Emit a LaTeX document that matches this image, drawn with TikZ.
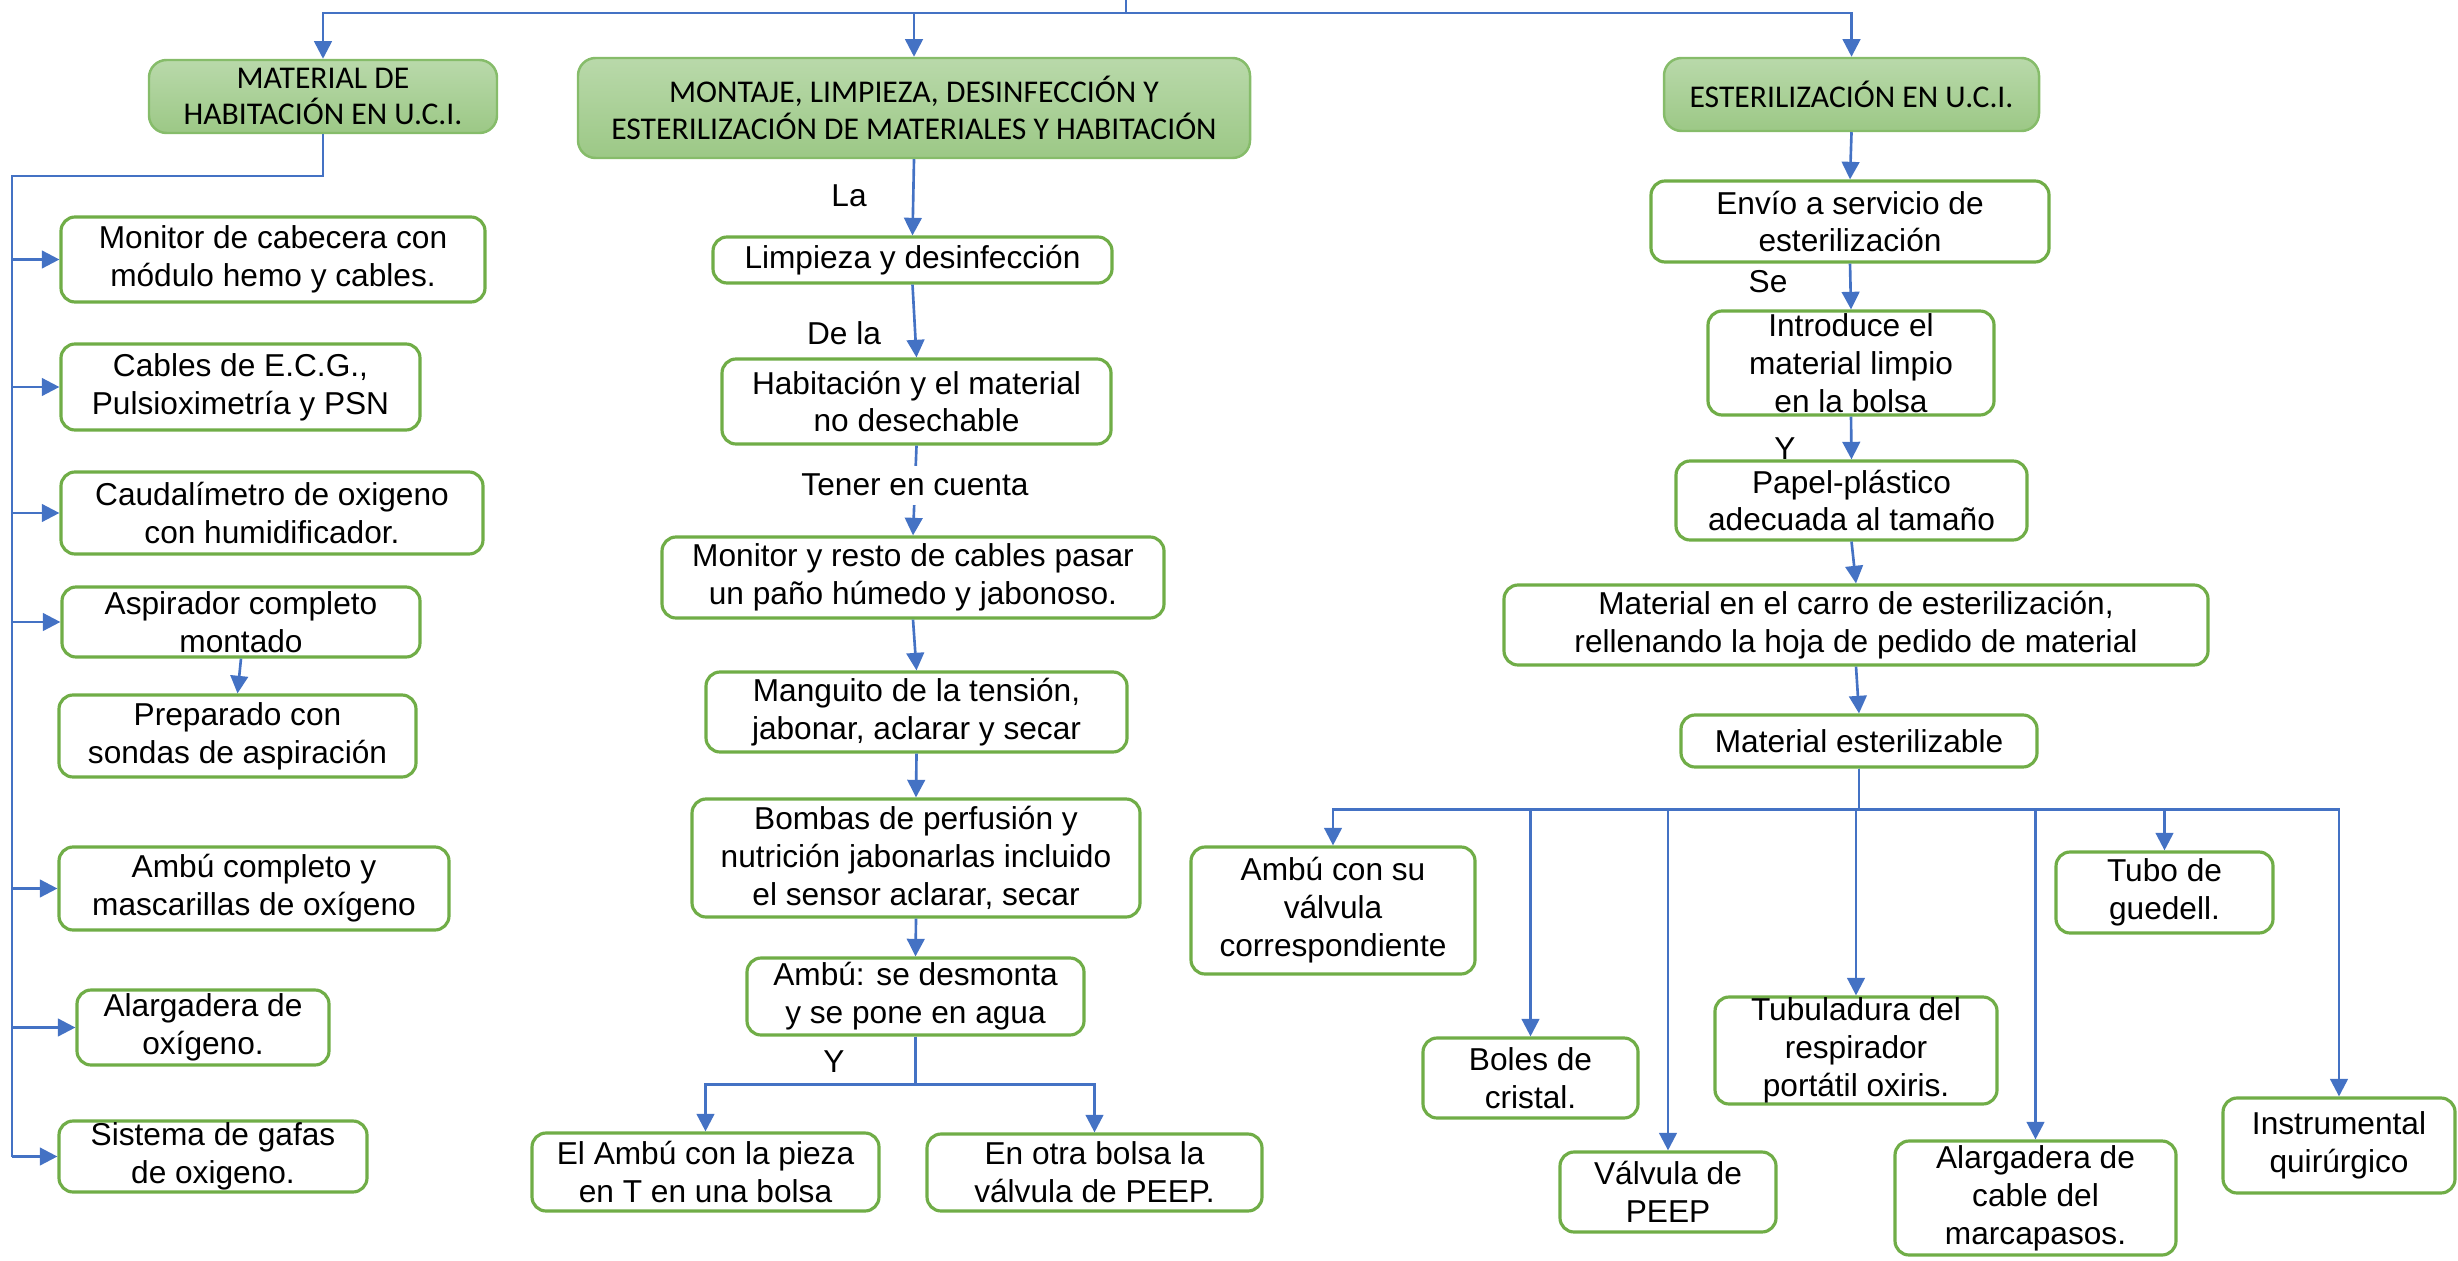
\documentclass[tikz,border=0pt]{standalone}
\usepackage{fontspec}
\setmainfont{Liberation Sans}
\newfontfamily\hdfont{Carlito}
\usetikzlibrary{arrows.meta,calc}
\definecolor{cblue}{HTML}{4472C4}
\definecolor{cgreen}{HTML}{70AD47}
\definecolor{htop}{HTML}{B9D9AA}
\definecolor{hbot}{HTML}{9CC886}
\definecolor{hborder}{HTML}{86BC6A}
\newcommand\gb[6]{%
  \node[gbox, minimum width={#4*0.01cm}, minimum height={#5*0.01cm}] (#1) at (#2,#3) {};
  \node[txt] (#1-t) at (#1.center) {#6};}
\newcommand\hb[6]{%
  \node[hbox, minimum width={#4*0.01cm}, minimum height={#5*0.01cm}] (#1) at (#2,#3) {};
  \node[htxt] (#1-t) at (#1.center) {#6};}
\begin{document}
\begin{tikzpicture}[x=0.01cm,y=-0.01cm,
  gbox/.style={draw=cgreen, line width=0.9pt, rounded corners=4pt, fill=white, inner sep=0pt},
  hbox/.style={draw=hborder, line width=0.7pt, rounded corners=5pt, top color=htop, bottom color=hbot, inner sep=0pt},
  txt/.style={align=center, font=\fontsize{9}{10.8}\selectfont, inner sep=0pt},
  htxt/.style={align=center, font=\hdfont\fontsize{9}{10.5}\selectfont, inner sep=0pt},
  lbl/.style={font=\fontsize{9}{10.8}\selectfont, inner sep=0pt},
  wire/.style={draw=cblue, line width=0.75pt},
  arr/.style={wire, -{Triangle[length=5pt,width=5pt]}}
]
\useasboundingbox (0,0) rectangle (2458,1261);

% headers
\hb{H1}{323}{96.5}{348}{73}{MATERIAL DE\\HABITACIÓN EN U.C.I.}
\hb{H2}{914}{108}{672}{100}{MONTAJE, LIMPIEZA, DESINFECCIÓN Y\\ESTERILIZACIÓN DE MATERIALES Y HABITACIÓN}
\hb{H3}{1851.5}{94.5}{375}{73}{ESTERILIZACIÓN EN U.C.I.}

% left column
\gb{L1}{273}{259.5}{424}{85}{Monitor de cabecera con\\módulo hemo y cables.}
\gb{L2}{240.5}{387}{359}{86}{Cables de E.C.G.,\\Pulsioximetría y PSN}
\gb{L3}{272}{513}{422}{82}{Caudalímetro de oxigeno\\con humidificador.}
\gb{L4}{241}{622}{358}{70}{Aspirador completo\\montado}
\gb{L5}{237.5}{736}{357}{82}{Preparado con\\sondas de aspiración}
\gb{L6}{254}{888.5}{390}{83}{Ambú completo y\\mascarillas de oxígeno}
\gb{L7}{203}{1027.5}{252}{75}{Alargadera de\\oxígeno.}
\gb{L8}{213}{1156.5}{308}{71}{Sistema de gafas\\de oxigeno.}

% middle column
\gb{M1}{912.5}{260}{399}{46}{Limpieza y desinfección}
\gb{M2}{916.5}{401.5}{389}{85}{Habitación y el material\\no desechable}
\gb{M3}{913}{577.5}{502}{81}{Monitor y resto de cables pasar\\un paño húmedo y jabonoso.}
\gb{M4}{916.5}{712}{421}{80}{Manguito de la tensión,\\jabonar, aclarar y secar}
\gb{M5}{916}{858}{448}{118}{Bombas de perfusión y\\nutrición jabonarlas incluido\\el sensor aclarar, secar}
\gb{M6}{915.5}{996.5}{337}{77}{Ambú: se desmonta\\y se pone en agua}
\gb{M7}{705.5}{1172}{347}{78}{El Ambú con la pieza\\en T en una bolsa}
\gb{M8}{1094.5}{1172.5}{335}{77}{En otra bolsa la\\válvula de PEEP.}

% right column
\gb{R1}{1850}{221.5}{398}{81}{Envío a servicio de\\esterilización}
\gb{R2}{1851}{363}{286}{104}{Introduce el\\material limpio\\en la bolsa}
\gb{R3}{1851.5}{500.5}{351}{79}{Papel-plástico\\adecuada al tamaño}
\gb{R4}{1856}{625}{704}{80}{Material en el carro de esterilización,\\rellenando la hoja de pedido de material}
\gb{R5}{1859}{741}{356}{52}{Material esterilizable}

\gb{S1}{1333}{910.5}{284}{127}{Ambú con su\\válvula\\correspondiente}
\gb{S2}{1530.5}{1078}{215}{80}{Boles de\\cristal.}
\gb{S3}{1668}{1192}{216}{80}{Válvula de\\PEEP}
\gb{S4}{1856}{1050.5}{282}{107}{Tubuladura del\\respirador\\portátil oxiris.}
\gb{S5}{2035.5}{1198}{281}{114}{Alargadera de\\cable del\\marcapasos.}
\gb{S6}{2164.5}{892.5}{217}{81}{Tubo de\\guedell.}
\gb{S7}{2339}{1145.5}{232}{95}{Instrumental\\quirúrgico}

% labels
\node[lbl] (la) at (849,196) {La};
\node[lbl] (dela) at (844,333) {De la};
\node[lbl] (ym) at (834,1062) {Y};
\node[lbl] (se) at (1768,282) {Se};
\node[lbl] (yr) at (1785,449) {Y};

% top connectors
\coordinate (root) at (1126,0);
\draw[arr] (root) -- ++(0,13) -| (H1.north);
\draw[arr] (root) -- ++(0,13) -| (H2.north);
\draw[arr] (root) -- ++(0,13) -| (H3.north);

% left spine
\coordinate (spine) at (12,176);
\draw[wire] (H1.south) |- (spine) -- (spine |- L8.west);
\foreach \n in {L1,L2,L3,L4,L6,L7,L8}
  \draw[arr] (spine |- \n.west) -- (\n.west);
\draw[arr] (L4.south) -- (L5.north);

% middle
\draw[arr] (H2.south) -- (M1.north);
\draw[arr] (M1.south) -- (M2.north);
\draw[arr] (M2.south) -- (M3.north)
  node[pos=0.44, fill=white, font=\fontsize{9}{10.8}\selectfont, inner xsep=0pt, inner ysep=0.085cm] (tener) {Tener en cuenta};
\draw[arr] (M3.south) -- (M4.north);
\draw[arr] (M4.south) -- (M5.north);
\draw[arr] (M5.south) -- (M6.north);
\draw[arr] (M6.south) -- ++(0,48) -| (M7.north);
\draw[arr] (M6.south) -- ++(0,48) -| (M8.north);

% right
\draw[arr] (H3.south) -- (R1.north);
\draw[arr] (R1.south) -- (R2.north);
\draw[arr] (R2.south) -- (R3.north);
\draw[arr] (R3.south) -- (R4.north);
\draw[arr] (R4.south) -- (R5.north);
\foreach \s in {S1,S2,S3,S4,S5,S6,S7}
  \draw[arr] (R5.south) -- ++(0,41) -| (\s.north);
\end{tikzpicture}
\end{document}
